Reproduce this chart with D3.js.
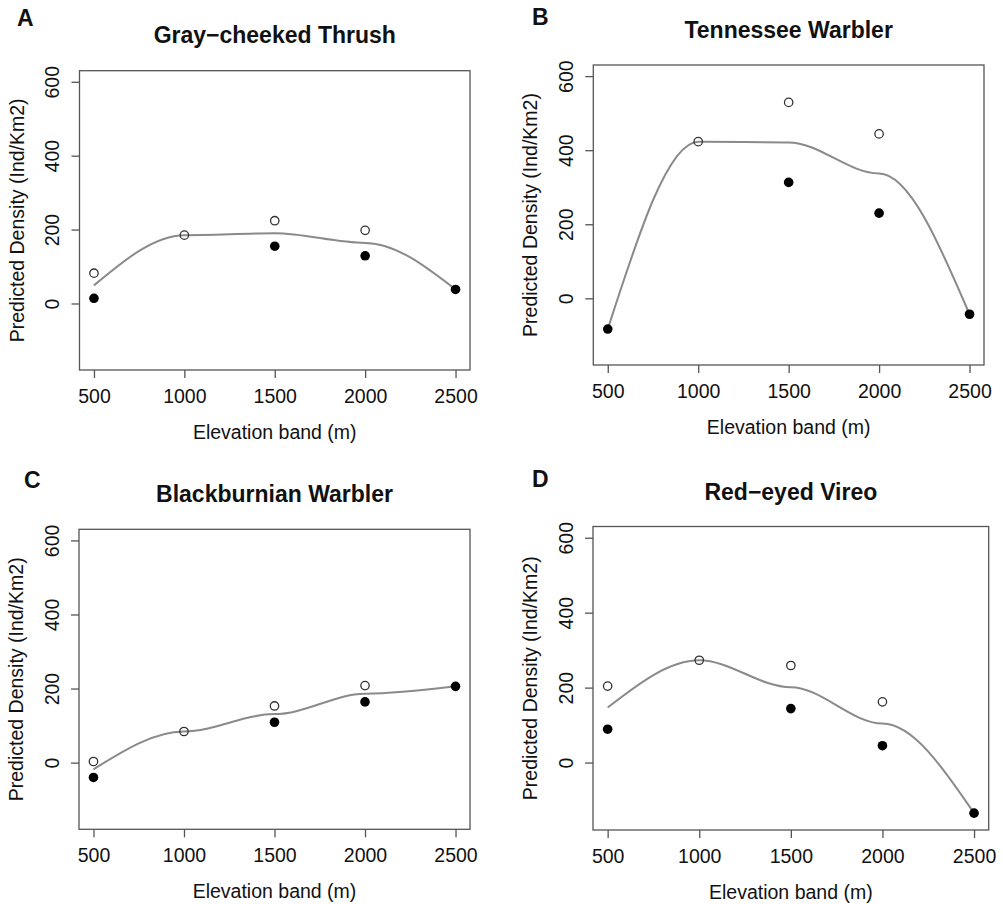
<!DOCTYPE html>
<html>
<head>
<meta charset="utf-8">
<script src="https://cdn.jsdelivr.net/npm/d3@7/dist/d3.min.js"></script>
<style>
  html, body { margin: 0; padding: 0; background: #fff; }
  svg { display: block; }
  text { font-family: "Liberation Sans", Arial, sans-serif; fill: #111; }
</style>
</head>
<body>
<svg id="chart" width="1003" height="904"></svg>
<script>
// ---- data ----
const elevations = [500, 1000, 1500, 2000, 2500];
const xTicks = [500, 1000, 1500, 2000, 2500];
const yTicks = [0, 200, 400, 600];

const panelLetters = ["A", "B", "C", "D"];
const speciesTitles = ["Gray\u2212cheeked Thrush", "Tennessee Warbler", "Blackburnian Warbler", "Red\u2212eyed Vireo"];

// open circles
const openA = [82, 185, 224, 198, null];
const openB = [null, 423, 529, 444, null];
const openC = [3, 84, 153, 208, null];
const openD = [204, 273, 259, 162, null];
// filled circles
const filledA = [14, null, 155, 129, 38];
const filledB = [-83, null, 313, 230, -43];
const filledC = [-40, null, 109, 164, 206];
const filledD = [89, null, 144, 45, -135];
// fitted smooth line
const fitA = [49, 185, 190, 164, 38];
const fitB = [-83, 423, 421, 337, -43];
const fitC = [-18, 84, 131, 186, 206];
const fitD = [147, 273, 201, 104, -135];

const xLabel = "Elevation band (m)";
const yLabel = "Predicted Density (Ind/Km2)";
const xLim = [420, 2580];
const yLim = [-180, 630];

// ---- layout ----
const panels = [
  { letter: panelLetters[0], title: speciesTitles[0], open: openA, filled: filledA, fit: fitA,
    box: { x0: 79.5, x1: 470, y0: 70.7, y1: 370 }, letterPos: [17, 26], titleY: 43 },
  { letter: panelLetters[1], title: speciesTitles[1], open: openB, filled: filledB, fit: fitB,
    box: { x0: 593.3, x1: 984, y0: 65, y1: 365 }, letterPos: [532, 25], titleY: 37.5 },
  { letter: panelLetters[2], title: speciesTitles[2], open: openC, filled: filledC, fit: fitC,
    box: { x0: 79, x1: 470, y0: 529.3, y1: 829.3 }, letterPos: [24, 488], titleY: 501.5 },
  { letter: panelLetters[3], title: speciesTitles[3], open: openD, filled: filledD, fit: fitD,
    box: { x0: 593, x1: 988.7, y0: 526.5, y1: 830 }, letterPos: [532, 487], titleY: 499.5 }
];

// Custom d3 curve: cubic Hermite in x, flat tangents at interior knots,
// end tangents from the adjacent segment (like monotone end rule).
function FlatKnotCurve(context) { this._context = context; }
FlatKnotCurve.prototype = {
  areaStart() { this._line = 0; },
  areaEnd() { this._line = NaN; },
  lineStart() { this._pts = []; },
  point(x, y) { this._pts.push([+x, +y]); },
  lineEnd() {
    const p = this._pts, n = p.length, c = this._context;
    if (!n) return;
    c.moveTo(p[0][0], p[0][1]);
    if (n === 1) return;
    const m = new Array(n).fill(0);
    const sec = (i) => (p[i + 1][1] - p[i][1]) / (p[i + 1][0] - p[i][0]);
    if (n === 2) { m[0] = m[1] = sec(0); }
    else {
      m[0] = 1.5 * sec(0) - 0.5 * m[1];
      m[n - 1] = 1.5 * sec(n - 2) - 0.5 * m[n - 2];
    }
    for (let i = 0; i < n - 1; i++) {
      const h = (p[i + 1][0] - p[i][0]) / 3;
      c.bezierCurveTo(p[i][0] + h, p[i][1] + m[i] * h,
                      p[i + 1][0] - h, p[i + 1][1] - m[i + 1] * h,
                      p[i + 1][0], p[i + 1][1]);
    }
  }
};
const flatKnotCurve = (context) => new FlatKnotCurve(context);

const svg = d3.select("#chart");
const AXIS_FONT = 19.5;
const boxColor = "#555";

panels.forEach(p => {
  const b = p.box;
  const x = d3.scaleLinear().domain(xLim).range([b.x0, b.x1]);
  const y = d3.scaleLinear().domain(yLim).range([b.y1, b.y0]);
  const g = svg.append("g");

  g.append("text")
    .attr("x", p.letterPos[0]).attr("y", p.letterPos[1])
    .attr("font-size", 23).attr("font-weight", "bold")
    .text(p.letter);

  g.append("text")
    .attr("x", (b.x0 + b.x1) / 2).attr("y", p.titleY)
    .attr("text-anchor", "middle")
    .attr("font-size", 23).attr("font-weight", "bold")
    .text(p.title);

  const xAxis = d3.axisBottom(x).tickValues(xTicks).tickSize(8).tickPadding(11).tickFormat(d3.format("d"));
  const gx = g.append("g").attr("transform", `translate(0,${b.y1})`).call(xAxis);
  gx.select(".domain").remove();
  gx.selectAll(".tick line").attr("stroke", boxColor).attr("stroke-width", 1.3);
  gx.selectAll(".tick text").attr("font-size", AXIS_FONT)
    .attr("font-family", "Liberation Sans, Arial, sans-serif").attr("fill", "#111");

  const yAxis = d3.axisLeft(y).tickValues(yTicks).tickSize(8).tickFormat(d3.format("d"));
  const gy = g.append("g").attr("transform", `translate(${b.x0},0)`).call(yAxis);
  gy.select(".domain").remove();
  gy.selectAll(".tick line").attr("stroke", boxColor).attr("stroke-width", 1.3);
  gy.selectAll(".tick text")
    .attr("font-size", AXIS_FONT)
    .attr("font-family", "Liberation Sans, Arial, sans-serif").attr("fill", "#111")
    .attr("x", null).attr("dy", null).attr("y", null)
    .attr("text-anchor", "middle")
    .attr("transform", "translate(-20.5,0) rotate(-90)");

  g.append("rect")
    .attr("x", b.x0).attr("y", b.y0)
    .attr("width", b.x1 - b.x0).attr("height", b.y1 - b.y0)
    .attr("fill", "none").attr("stroke", boxColor).attr("stroke-width", 1.3);

  g.append("text")
    .attr("x", (b.x0 + b.x1) / 2).attr("y", b.y1 + 68.5)
    .attr("text-anchor", "middle").attr("font-size", AXIS_FONT)
    .text(xLabel);
  g.append("text")
    .attr("transform", `translate(${b.x0 - 56},${(b.y0 + b.y1) / 2}) rotate(-90)`)
    .attr("text-anchor", "middle").attr("font-size", AXIS_FONT)
    .text(yLabel);

  const fitData = elevations.map((e, i) => [e, p.fit[i]]);
  const line = d3.line().x(d => x(d[0])).y(d => y(d[1])).curve(flatKnotCurve);
  g.append("path").datum(fitData)
    .attr("d", line).attr("fill", "none")
    .attr("stroke", "#8a8a8a").attr("stroke-width", 2);

  const openData = elevations.map((e, i) => [e, p.open[i]]).filter(d => d[1] !== null);
  g.selectAll(".open").data(openData).enter().append("circle")
    .attr("cx", d => x(d[0])).attr("cy", d => y(d[1])).attr("r", 4.2)
    .attr("fill", "none").attr("stroke", "#333").attr("stroke-width", 1.3);

  const filledData = elevations.map((e, i) => [e, p.filled[i]]).filter(d => d[1] !== null);
  g.selectAll(".filled").data(filledData).enter().append("circle")
    .attr("cx", d => x(d[0])).attr("cy", d => y(d[1])).attr("r", 4.8)
    .attr("fill", "#000");
});
</script>
</body>
</html>
